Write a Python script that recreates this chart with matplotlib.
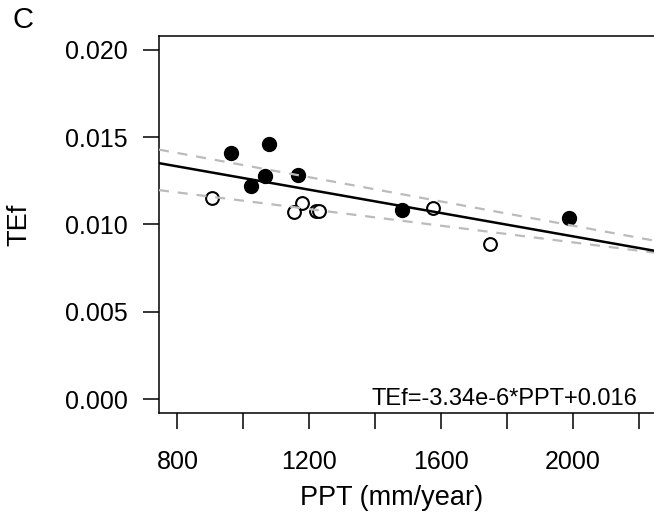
import matplotlib; matplotlib.use("Agg")
import matplotlib.pyplot as plt
import numpy as np

plt.rcParams.update({"font.family": ["Liberation Sans", "DejaVu Sans"]})

# filled points (group 1)
ppt_filled = [963, 1077, 1065, 1023, 1165, 1481, 1989]
tef_filled = [0.01411, 0.01462, 0.01277, 0.01220, 0.01281, 0.01081, 0.01038]
# open points (group 2)
ppt_open = [905, 1178, 1152, 1221, 1228, 1574, 1747]
tef_open = [0.01149, 0.01121, 0.01069, 0.01080, 0.01075, 0.01092, 0.00888]
# overall fit from the equation label
slope, intercept = -3.34e-6, 0.016

xticks = [800, 1000, 1200, 1400, 1600, 1800, 2000, 2200]
xticklabels = ["800", "", "1200", "", "1600", "", "2000", ""]
yticks = [0.000, 0.005, 0.010, 0.015, 0.020]

fig = plt.figure(figsize=(6.54, 5.12), dpi=100)
ax = fig.add_axes([159/654, 1-413/512, 498.5/654, 377/512])
xlim = (744, 2256)
ax.set_xlim(*xlim)
ax.set_ylim(-0.0008, 0.0208)

ax.plot(ppt_filled, tef_filled, "o", color="black", ms=10, zorder=2)
ax.plot(ppt_open, tef_open, "o", mfc="white", mec="black", mew=1.5, ms=9.2, zorder=2)

xs = np.array(xlim)
for px, ty in [(ppt_filled, tef_filled), (ppt_open, tef_open)]:
    b, a = np.polyfit(px, ty, 1)
    ax.plot(xs, a + b*xs, color="#BBBBBB", lw=1.6, dashes=(4.5, 4), zorder=3)
ax.plot(xs, intercept + slope*xs, color="black", lw=1.8, zorder=4)

ax.set_xticks(xticks)
ax.set_xticklabels(xticklabels)
ax.set_yticks(yticks)
ax.set_yticklabels([f"{v:.3f}" for v in yticks])
ax.tick_params(axis="both", direction="out", length=11.5, width=1.1, labelsize=18)
ax.tick_params(axis="y", pad=11)
ax.tick_params(axis="x", pad=15)
for s in ax.spines.values():
    s.set_linewidth(1.1)

ax.set_xlabel("PPT (mm/year)", fontsize=19.5)
ax.xaxis.set_label_coords(0.467, -0.19)
ax.set_ylabel("TEf", fontsize=19.5)
ax.yaxis.set_label_coords(-0.255, 0.5)

ax.text(2195, -0.00034, "TEf=-3.34e-6*PPT+0.016", fontsize=17, ha="right", va="baseline")
fig.text(13/654, 1-28/512, "C", fontsize=21, ha="left", va="baseline")

fig.savefig("out.png", dpi=100)
